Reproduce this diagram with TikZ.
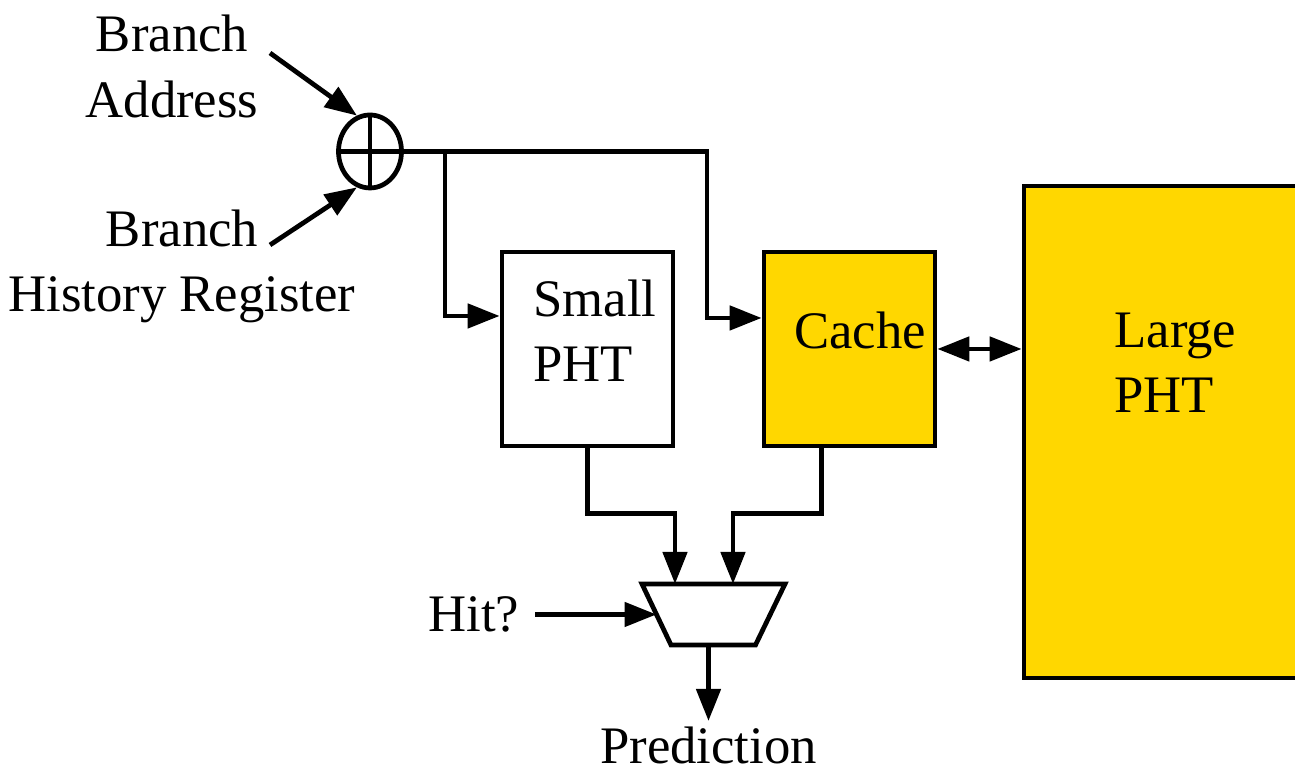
\documentclass[tikz,border=0pt]{standalone}
\usepackage{fontspec}
\setmainfont{Liberation Serif}
\usetikzlibrary{arrows.meta, positioning, shapes.geometric}
\definecolor{phtgold}{HTML}{FFD700}

\begin{document}
\begin{tikzpicture}[>={Triangle[length=3.2mm, width=2.4mm]}, line width=1.35pt,
  lbl/.style={font=\fontsize{15}{18.5}\selectfont, inner sep=1pt},
  tbl/.style={draw, rectangle, minimum width=1.71cm, minimum height=1.94cm, inner sep=0pt},
  xorgate/.style={draw, ellipse, minimum width=0.63cm, minimum height=0.73cm, inner sep=0pt}]

  \path [use as bounding box, clip] (0,0) rectangle (12.95,7.75);

  \node [xorgate] (xor) at (3.70,6.235) {};
  \node [lbl, align=center] (addr) at (1.72,7.085) {Branch\\Address};
  \node [lbl, align=center] (bhr) at (1.82,5.09) {Branch\\History Register};
  \coordinate (addrin) at (2.70,7.22);
  \coordinate (bhrin) at (2.70,5.30);

  \node [tbl] (small) at (5.875,4.26) {};
  \node [tbl, fill=phtgold] (cache) at (8.495,4.26) {};
  \node [tbl, fill=phtgold, minimum width=3.14cm, minimum height=4.92cm] (large) at (11.81,3.43) {};
  \node [lbl, align=left, anchor=west] (smalltxt) at (5.275,4.445) {Small\\PHT};
  \node [lbl, anchor=west] (cachetxt) at (7.885,4.45) {Cache};
  \node [lbl, align=left, anchor=west] (largetxt) at (11.085,4.125) {Large\\PHT};

  \coordinate (sel) at (7.135,1.605);
  \draw ([shift={(-0.715,0.305)}]sel) -- ([shift={(0.715,0.305)}]sel)
    -- ([shift={(0.42,-0.305)}]sel) -- ([shift={(-0.425,-0.305)}]sel) -- cycle;
  \coordinate (selin) at ([xshift=-0.57cm]sel);
  \coordinate (selout) at ([xshift=-0.05cm, yshift=-0.305cm]sel);
  \node [lbl, inner xsep=4pt, left=1.21cm of selin] (hit) {Hit?};
  \node [lbl, below=0.76cm of selout] (pred) {Prediction};

  \draw (xor.north) -- (xor.south);
  \draw (xor.west) -- (xor.east);
  \draw [->] (addrin) -- (xor.110);
  \draw [->] (bhrin) -- (xor.250);
  \draw [->] (xor.east) -- ++(0.41,0) |- ([yshift=3.3mm]small.west);
  \draw [->] (xor.east) -- ++(3.03,0) |- ([yshift=3.1mm]cache.west);
  \draw [<->] (cache.east) -- (cache.east -| large.west);
  \draw [->] (small.south) -- ++(0,-0.65) -| ([xshift=-3.85mm, yshift=3.05mm]sel);
  \draw [->] ([xshift=-2.8mm]cache.south) -- ++(0,-0.65) -| ([xshift=1.95mm, yshift=3.05mm]sel);
  \draw [->] (hit) -- (selin);
  \draw [->] (selout) -- (pred.north);
\end{tikzpicture}
\end{document}
